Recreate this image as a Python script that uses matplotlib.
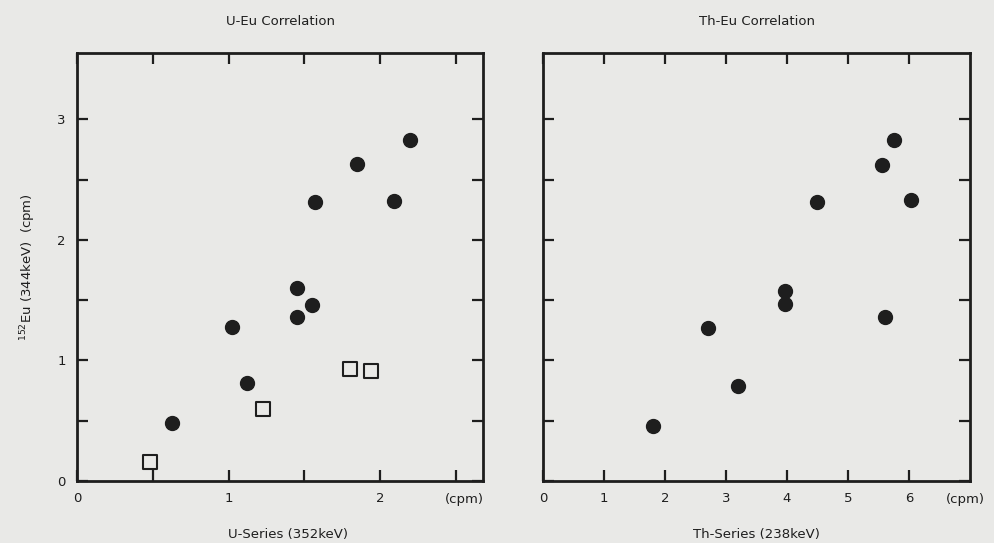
import matplotlib.pyplot as plt

# U-Eu panel, filled circles
u_circle_x = [2.20, 1.85, 1.57, 2.09, 1.45, 1.55, 1.45, 1.02, 1.12, 0.63]
u_circle_y = [2.83, 2.63, 2.31, 2.32, 1.60, 1.46, 1.36, 1.28, 0.81, 0.48]
# U-Eu panel, open squares
u_square_x = [0.48, 1.23, 1.80, 1.94]
u_square_y = [0.16, 0.60, 0.93, 0.91]

# Th-Eu panel
th_x = [5.75, 5.55, 4.49, 6.03, 3.97, 3.97, 5.60, 2.70, 3.20, 1.80]
th_y = [2.83, 2.62, 2.31, 2.33, 1.58, 1.47, 1.36, 1.27, 0.79, 0.46]

u_xticks = [0, 0.5, 1, 1.5, 2, 2.5]
u_xticklabels = ['0', '', '1', '', '2', '']
th_xticks = [0, 1, 2, 3, 4, 5, 6]
th_xticklabels = ['0', '1', '2', '3', '4', '5', '6']
yticks = [0, 0.5, 1, 1.5, 2, 2.5, 3]
yticklabels = ['0', '', '1', '', '2', '', '3']

bg = '#e9e9e7'
ink = '#1e1e1e'

plt.rcParams['font.family'] = 'DejaVu Sans'

fig = plt.figure(figsize=(9.94, 5.43), dpi=100, facecolor=bg)
ax1 = fig.add_axes([0.0775, 0.1142, 0.4085, 0.7882])
ax2 = fig.add_axes([0.5463, 0.1142, 0.4296, 0.7882])

for ax in (ax1, ax2):
    ax.set_facecolor(bg)
    for s in ax.spines.values():
        s.set_linewidth(2.0)
        s.set_color(ink)
    ax.tick_params(direction='in', length=8, width=1.6, color=ink,
                   top=True, right=True, labelsize=9.5, labelcolor=ink, pad=8)
    ax.set_ylim(0, 3.55)
    ax.set_yticks(yticks)

# left panel
ax1.scatter(u_circle_x, u_circle_y, s=100, color=ink, zorder=3)
ax1.scatter(u_square_x, u_square_y, s=100, marker='s', facecolors='none',
            edgecolors=ink, linewidths=1.5, zorder=3)
ax1.set_xlim(0, 2.68)
ax1.set_xticks(u_xticks)
ax1.set_xticklabels(u_xticklabels)
ax1.set_yticklabels(yticklabels)
ax1.set_title('U-Eu Correlation', fontsize=9.5, color=ink, pad=20)
ax1.set_xlabel('U-Series (352keV)', fontsize=9.5, color=ink, va='center')
ax1.xaxis.set_label_coords(0.52, -0.126)
ax1.set_ylabel('$^{152}$Eu (344keV)  (cpm)', fontsize=9.5, color=ink, labelpad=14)
ax1.text(0.953, -0.044, '(cpm)', transform=ax1.transAxes, ha='center', va='center',
         fontsize=9.5, color=ink)

# right panel
ax2.scatter(th_x, th_y, s=100, color=ink, zorder=3)
ax2.set_xlim(0, 7)
ax2.set_xticks(th_xticks)
ax2.set_xticklabels(th_xticklabels)
ax2.set_yticklabels([])
ax2.set_title('Th-Eu Correlation', fontsize=9.5, color=ink, pad=20)
ax2.set_xlabel('Th-Series (238keV)', fontsize=9.5, color=ink, va='center')
ax2.xaxis.set_label_coords(0.5, -0.126)
ax2.text(0.988, -0.044, '(cpm)', transform=ax2.transAxes, ha='center', va='center',
         fontsize=9.5, color=ink)

plt.savefig('out.png', dpi=100, facecolor=bg)
